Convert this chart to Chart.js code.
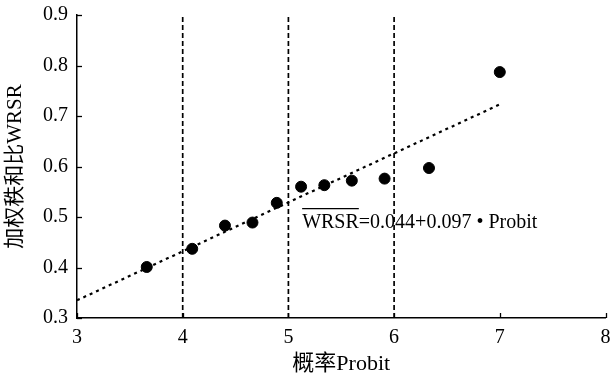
<!DOCTYPE html>
<html>
<head>
<meta charset="utf-8">
<script src="https://cdn.jsdelivr.net/npm/chart.js@4/dist/chart.umd.min.js"></script>
<style>
html,body{margin:0;padding:0;background:#fff;}
#wrap{width:612px;height:379px;position:relative;}
</style>
</head>
<body>
<div id="wrap"><canvas id="c" width="612" height="379"></canvas></div>
<script>
// Data
const probit = [3.66, 4.09, 4.40, 4.66, 4.89, 5.12, 5.34, 5.60, 5.91, 6.33, 7.00];
const wrsr   = [0.401, 0.437, 0.483, 0.489, 0.528, 0.560, 0.563, 0.572, 0.576, 0.597, 0.787];
const fitX   = [3, 7];
const fitY   = [0.335, 0.723];
const cutoffs = [4, 5, 6];
const xTicks = [3, 4, 5, 6, 7, 8];
const yTicks = [0.3, 0.4, 0.5, 0.6, 0.7, 0.8, 0.9];
const equationText = 'WRSR=0.044+0.097 • Probit';
const overlineText = 'WRSR';
const xTitle = '概率Probit';
const yTitle = '加权秩和比WRSR';

const FONT = "'Liberation Serif', 'Noto Sans CJK SC', serif";

const datasets = [];
cutoffs.forEach(c => {
  datasets.push({
    type: 'line',
    data: [{x: c, y: yTicks[0]}, {x: c, y: yTicks[yTicks.length - 1]}],
    borderColor: '#000', borderWidth: 1.7, borderDash: [5, 3],
    pointRadius: 0, fill: false
  });
});
datasets.push({
  type: 'line',
  data: fitX.map((x, i) => ({x, y: fitY[i]})),
  borderColor: '#000', borderWidth: 2.2, borderDash: [3, 4],
  pointRadius: 0, fill: false
});
datasets.push({
  type: 'scatter',
  data: probit.map((x, i) => ({x, y: wrsr[i]})),
  backgroundColor: '#000', borderColor: '#000',
  pointRadius: 5.5, pointHoverRadius: 5.5
});

const tickPlugin = {
  id: 'inTicks',
  afterDraw(chart) {
    const {ctx, chartArea, scales} = chart;
    ctx.save();
    ctx.strokeStyle = '#000';
    ctx.lineWidth = 1.3;
    scales.x.ticks.forEach(t => {
      const px = Math.round(scales.x.getPixelForValue(t.value)) + 0.5;
      ctx.beginPath();
      ctx.moveTo(px, chartArea.bottom);
      ctx.lineTo(px, chartArea.bottom - 5);
      ctx.stroke();
    });
    scales.y.ticks.forEach(t => {
      const py = Math.round(scales.y.getPixelForValue(t.value)) + 0.5;
      ctx.beginPath();
      ctx.moveTo(chartArea.left, py);
      ctx.lineTo(chartArea.left + 5, py);
      ctx.stroke();
    });
    // equation
    const o = chart.options.plugins.eqn;
    const ex = scales.x.getPixelForValue(o.x);
    const ey = scales.y.getPixelForValue(o.y);
    ctx.font = '20px ' + FONT;
    ctx.fillStyle = '#000';
    ctx.textBaseline = 'alphabetic';
    ctx.textAlign = 'left';
    ctx.fillText(equationText, ex, ey);
    const w = ctx.measureText(overlineText).width;
    ctx.lineWidth = 1.2;
    ctx.beginPath();
    ctx.moveTo(ex, ey - 19.5);
    ctx.lineTo(ex + w, ey - 19.5);
    ctx.stroke();
    ctx.restore();
  }
};

new Chart(document.getElementById('c'), {
  data: {datasets},
  options: {
    responsive: false,
    animation: false,
    layout: {padding: {top: 15, right: 6, left: 0, bottom: 0}},
    plugins: {
      legend: {display: false},
      tooltip: {enabled: false},
      eqn: {x: 5.13, y: 0.478}
    },
    scales: {
      x: {
        type: 'linear', min: 3, max: 8,
        afterBuildTicks: s => { s.ticks = xTicks.map(v => ({value: v})); },
        afterFit: s => { s.height = 61; s.paddingLeft = 0; s.paddingRight = 0; },
        grid: {display: false, drawTicks: false},
        border: {display: true, color: '#000', width: 1.5},
        ticks: {color: '#000', font: {family: FONT, size: 20}, padding: 8, callback: v => String(v)},
        title: {display: true, text: xTitle, color: '#000', font: {family: FONT, size: 22}, padding: {top: 0, bottom: 2}}
      },
      y: {
        type: 'linear', min: 0.3, max: 0.9,
        afterBuildTicks: s => { s.ticks = yTicks.map(v => ({value: v})); },
        afterFit: s => { s.width = 77; s.paddingTop = 0; s.paddingBottom = 0; },
        grid: {display: false, drawTicks: false},
        border: {display: true, color: '#000', width: 1.5},
        ticks: {color: '#000', font: {family: FONT, size: 20}, padding: 9, callback: v => v.toFixed(1)},
        title: {display: true, text: yTitle, color: '#000', font: {family: FONT, size: 21}, padding: {top: 3, bottom: 0}}
      }
    }
  },
  plugins: [tickPlugin]
});
</script>
</body>
</html>
